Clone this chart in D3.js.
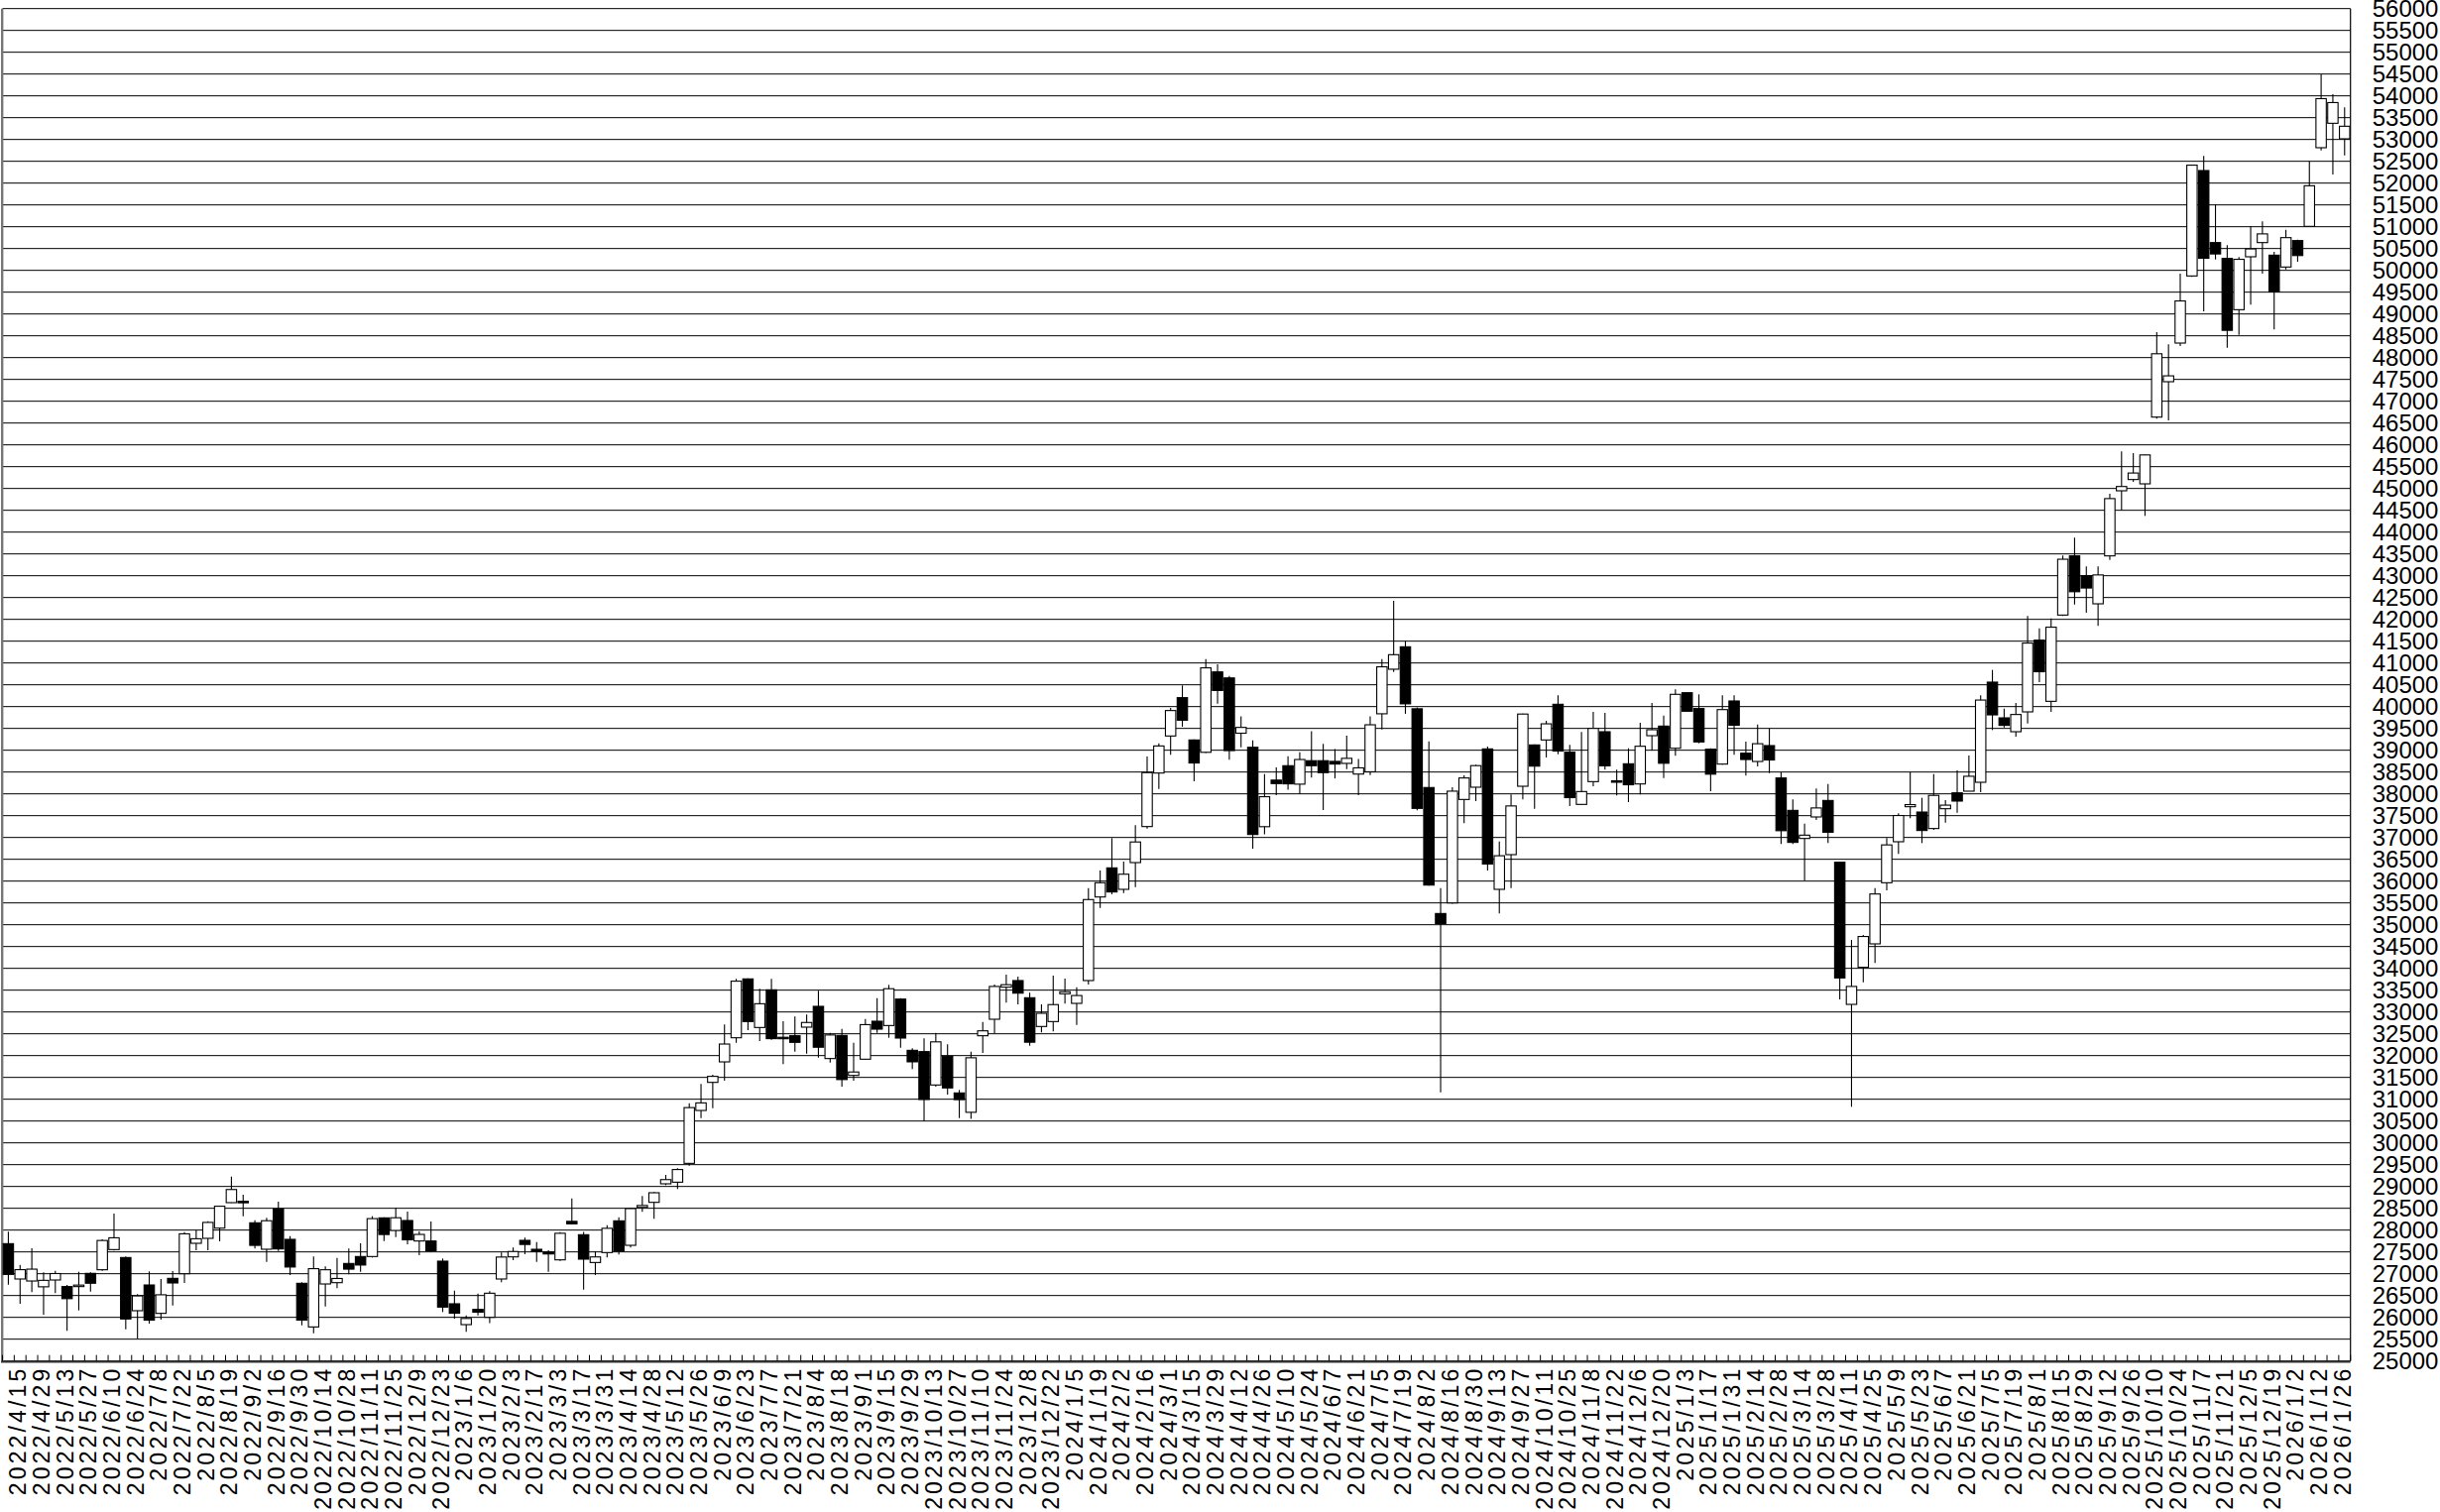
<!DOCTYPE html>
<html><head><meta charset="utf-8">
<script src="https://cdn.jsdelivr.net/npm/d3@7"></script>
<style>body{margin:0;background:#fff;} svg{display:block;}</style>
</head><body><svg id="c" width="2461" height="1525"></svg>
<script>
const dateLabels = [
"2022/4/15","2022/4/29","2022/5/13","2022/5/27","2022/6/10","2022/6/24","2022/7/8","2022/7/22","2022/8/5","2022/8/19","2022/9/2","2022/9/16","2022/9/30","2022/10/14","2022/10/28","2022/11/11","2022/11/25","2022/12/9","2022/12/23",
"2023/1/6","2023/1/20","2023/2/3","2023/2/17","2023/3/3","2023/3/17","2023/3/31","2023/4/14","2023/4/28","2023/5/12","2023/5/26","2023/6/9","2023/6/23","2023/7/7","2023/7/21","2023/8/4","2023/8/18","2023/9/1","2023/9/15","2023/9/29","2023/10/13","2023/10/27","2023/11/10","2023/11/24","2023/12/8","2023/12/22",
"2024/1/5","2024/1/19","2024/2/2","2024/2/16","2024/3/1","2024/3/15","2024/3/29","2024/4/12","2024/4/26","2024/5/10","2024/5/24","2024/6/7","2024/6/21","2024/7/5","2024/7/19","2024/8/2","2024/8/16","2024/8/30","2024/9/13","2024/9/27","2024/10/11","2024/10/25","2024/11/8","2024/11/22","2024/12/6","2024/12/20",
"2025/1/3","2025/1/17","2025/1/31","2025/2/14","2025/2/28","2025/3/14","2025/3/28","2025/4/11","2025/4/25","2025/5/9","2025/5/23","2025/6/7","2025/6/21","2025/7/5","2025/7/19","2025/8/1","2025/8/15","2025/8/29","2025/9/12","2025/9/26","2025/10/10","2025/10/24","2025/11/7","2025/11/21","2025/12/5","2025/12/19",
"2026/1/2","2026/1/12","2026/1/26"];

const openV = [27689,26879,26833,26700,26856,26705,26710,27008,27091,27553,27371,26152,26742,26091,26894,27000,27697,27811,28045,28629,
28660,28167,27561,28485,27788,26780,25780,26765,26795,27235,27394,27394,28280,27992,28220,27750,27750,27288,26311,25833,
26182,26000,26879,27386,27765,27560,27500,27318,28200,27894,27257,27485,28212,27651,28520,28636,29061,29098,29530,30742,
31386,31856,32409,33758,32644,33508,32420,32455,32652,33129,31932,32462,31545,31917,32788,32689,33295,32121,32091,31326,
31985,31144,30700,32455,32833,33568,33720,33326,32667,32780,33417,33197,33720,35636,36303,35811,36424,37250,38477,39326,
40205,39235,38952,40795,40657,39390,39067,37247,38315,38645,38222,38760,38760,38744,38698,38453,38506,39835,40857,41371,
39950,38145,35257,35500,37871,38152,39030,35811,36606,38174,39121,39235,40053,38955,37758,38280,39424,38300,38689,38227,
39333,39553,39045,40318,39955,39023,38682,40129,38932,38742,39106,38364,37621,36977,37470,37848,36432,33174,34023,34561,
35962,36902,37705,37583,37205,37659,38023,38061,38265,40561,39742,39424,39879,41523,40121,42098,43455,43000,42356,43455,
44947,45205,45106,46636,47447,48333,49871,52288,50636,50273,49098,50311,50636,50348,50076,50682,51008,52811,53371,53015];

const highV = [27962,27204,27583,27030,27068,26742,27045,27030,27788,28379,27394,26530,27053,26879,27061,27955,28000,28205,28561,29227,
28811,28227,28280,28652,27864,26803,27394,27167,27364,27576,27697,28318,28295,28508,28424,27970,28197,27348,26614,26045,
26545,26600,27485,27598,27826,27727,27538,27955,28727,27960,27515,28114,28295,28510,28780,28871,29265,29417,30909,31348,
31561,32712,33758,33773,33530,33758,32788,32894,32939,33485,32523,32614,32295,32841,33318,33621,33318,32167,32394,32523,
32258,31212,32091,32773,33629,33856,33811,33439,33174,33833,33765,33568,35841,36242,36985,36447,37280,38856,39159,39970,
40485,39250,41087,40972,40703,39774,39228,38453,38606,38860,38952,39436,39144,39029,39336,38798,39774,41087,42423,41502,
39981,39205,35841,38152,38424,38667,39083,36909,37985,39841,39136,39674,40258,39121,39417,39879,39856,38553,39045,39629,
40083,39795,40394,40330,40280,39045,40258,40258,39197,39591,39500,38492,37871,37318,38121,38227,36432,34652,34765,35841,
36985,37553,38500,37909,38455,37856,38538,38879,40258,40841,39955,40083,42076,41795,42023,43462,43871,43212,43212,44879,
45848,45811,45780,48583,48303,49924,52420,52621,51515,50576,50303,51008,51121,50424,50932,50705,52500,54492,54038,53735];

const lowV = [26750,26310,26576,26061,26553,25689,26159,26591,27068,27530,25727,25515,25856,25947,26273,26788,27538,27538,27742,28621,
28318,27576,27273,27523,26970,25818,25636,26250,26667,26985,27045,27371,27750,27841,27674,27424,27500,26121,25970,25667,
26045,25870,26803,27311,27447,27273,27045,27295,28130,26632,26970,27371,27439,27598,28417,28258,29030,28939,29477,30568,
30795,31424,32295,32583,32333,32364,31803,32091,32045,31955,31841,31288,31424,31902,32523,32409,32182,31689,30492,31288,
31106,30568,30550,32061,32508,33212,33174,32227,32530,32553,33189,32705,33629,35386,35697,35727,35864,37205,38114,38894,
39538,38288,38937,40065,38783,39067,36740,37070,37969,38092,37992,38376,37631,38353,38568,37969,38430,39474,40795,39835,
37623,35895,31156,35480,37326,37833,36242,35257,35841,37871,37659,38833,38909,37720,37742,38174,38553,37962,37811,37985,
38992,38364,38871,39879,39159,38061,38667,38894,38417,38629,38477,36848,36848,36015,37402,36871,33288,30826,33682,34121,
35788,36621,37439,36871,37174,37341,37568,38061,38038,39462,39523,39311,39614,40561,39879,42076,42341,42152,41848,43364,
44500,45150,44371,46598,46561,48265,49848,49061,50250,48227,48523,49212,49924,48644,50023,50197,51000,52750,52197,52636];

const closeV = [26985,27093,27105,26848,27004,26428,26739,26782,27762,27824,25963,26491,25936,26517,26788,27915,27802,28176,28547,28930,
28641,27650,28215,27568,27154,25937,27116,27091,26891,27105,27199,28263,27899,28283,27777,27901,27527,26235,26095,25974,
26119,26553,27382,27509,27671,27513,27453,27927,28144,27334,27385,28041,27518,28493,28564,28856,29157,29388,30808,30916,
31524,32265,33706,32781,33189,32388,32391,32304,32759,32192,32473,31450,31624,32710,32606,33533,32402,31857,30994,32315,
31259,30991,31950,32568,33585,33625,33431,32307,32970,33169,33464,33377,35577,35963,35751,36158,36897,38487,39098,39910,
39688,38707,40888,40369,38992,39523,37068,37934,38236,38229,38787,38646,38487,38683,38814,38596,39583,40912,41190,40063,
37667,35909,35025,38062,38364,38647,36391,36581,37723,39829,38635,39605,38981,37913,38053,39500,38642,38283,38208,39091,
39470,38701,40281,39894,39190,38451,39931,39572,38787,39149,38776,37155,36887,37053,37677,37120,33780,33585,34730,35705,
36830,37503,37753,37160,37965,37741,37834,38403,40150,39810,39569,39819,41456,40799,41820,43378,42633,42718,43018,44768,
45045,45354,45769,48088,47582,49299,52411,50276,50376,48625,50253,50491,50836,49507,50750,50339,51939,53936,53846,53303];

const yTicks = d3.range(25000, 56001, 500);

(function draw() {
  const svg = d3.select("#c");
  const pL = 2.5, pR = 2370.7, pT = 8.67, pB = 1372.67;
  const n = openV.length;
  const x = d3.scaleBand().domain(d3.range(n)).range([pL, pR]).padding(0);
  const y = d3.scaleLinear().domain([25000, 56000]).range([pB, pT]);
  const bw = x.bandwidth();

  svg.append("rect").attr("x",0).attr("y",0).attr("width",2461).attr("height",1525).attr("fill","#fff");

  // gridlines
  svg.append("g").selectAll("line").data(yTicks).join("line")
    .attr("x1", pL).attr("x2", pR)
    .attr("y1", d => y(d)).attr("y2", d => y(d))
    .attr("stroke", "#000").attr("stroke-width", 1);

  // right y axis labels
  const yAxis = d3.axisRight(y).tickValues(yTicks).tickSize(0).tickPadding(22).tickFormat(d3.format("d"));
  const gy = svg.append("g").attr("transform", `translate(${pR},0)`).call(yAxis);
  gy.select(".domain").remove();
  gy.selectAll("text").attr("font-family","Liberation Sans, Arial, sans-serif").attr("font-size","24px").attr("fill","#000");

  // frame
  svg.append("line").attr("x1",pR).attr("x2",pR).attr("y1",pT).attr("y2",pB).attr("stroke","#000").attr("stroke-width",1.2);
  svg.append("line").attr("x1",2.2).attr("x2",2.2).attr("y1",pT).attr("y2",pB+1).attr("stroke","#777").attr("stroke-width",2.4);
  svg.append("line").attr("x1",1).attr("x2",pR).attr("y1",pB+0.8).attr("y2",pB+0.8).attr("stroke","#333").attr("stroke-width",2);

  // x ticks at slot boundaries
  svg.append("g").selectAll("line").data(d3.range(n+1)).join("line")
    .attr("x1", i => pL + i*bw).attr("x2", i => pL + i*bw)
    .attr("y1", pB - 6).attr("y2", pB)
    .attr("stroke","#000").attr("stroke-width",1);

  // candles
  const data = d3.range(n).map(i => ({i, o: openV[i], h: highV[i], l: lowV[i], c: closeV[i]}));
  const g = svg.append("g");
  g.selectAll("line.wick").data(data).join("line").attr("class","wick")
    .attr("x1", d => x(d.i) + bw/2).attr("x2", d => x(d.i) + bw/2)
    .attr("y1", d => y(d.h)).attr("y2", d => y(d.l))
    .attr("stroke","#000").attr("stroke-width",1.1);
  g.selectAll("rect.body").data(data).join("rect").attr("class","body")
    .attr("x", d => x(d.i) + 0.7).attr("width", bw - 1.4)
    .attr("y", d => y(Math.max(d.o, d.c)))
    .attr("height", d => Math.max(1.5, Math.abs(y(d.o) - y(d.c))))
    .attr("fill", d => d.c >= d.o ? "#fff" : "#000")
    .attr("stroke","#000").attr("stroke-width",1.1);

  // x labels (rotated), at odd candles; fixed per-character advance like the reference
  svg.append("g").selectAll("text").data(dateLabels).join("text")
    .attr("transform", (d,k) => `translate(${x(2*k+1) + bw/2 - 2},${pB + 8}) rotate(-90)`)
    .attr("text-anchor","end").attr("dominant-baseline","central")
    .attr("font-family","Liberation Sans, Arial, sans-serif").attr("font-size","23px").attr("fill","#000")
    .attr("textLength", d => d.length * 14.4 - 2).attr("lengthAdjust","spacing")
    .text(d => d);
})();
</script>
</body></html>
